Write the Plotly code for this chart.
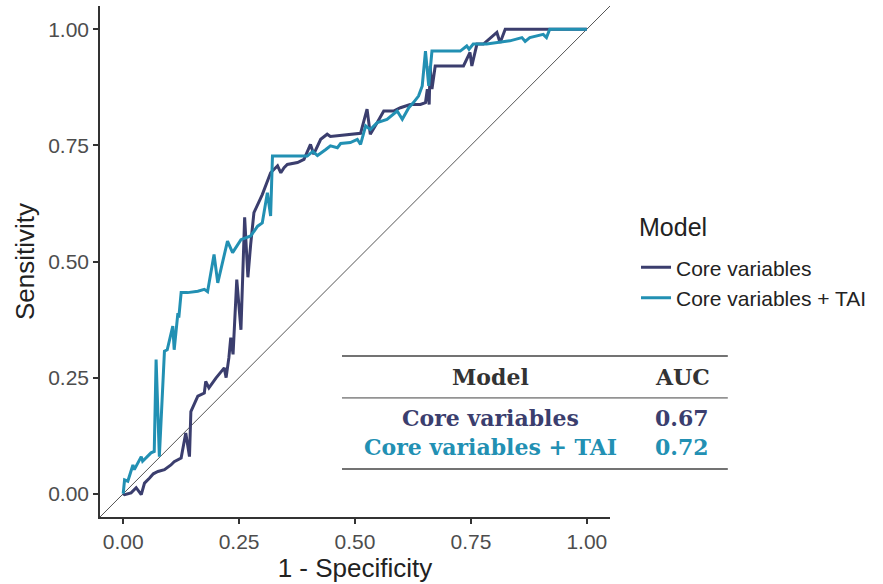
import plotly.graph_objects as go

# Core variables (navy) ROC curve: 1 - specificity, sensitivity
core_fpr = [0.0, 0.003, 0.017, 0.028, 0.039, 0.046, 0.057, 0.065, 0.075, 0.089, 0.103, 0.110,
            0.125, 0.135, 0.143, 0.146, 0.161, 0.175, 0.178, 0.185, 0.200, 0.218, 0.222, 0.228,
            0.232, 0.237, 0.245, 0.254, 0.262, 0.269, 0.275, 0.282, 0.300, 0.318, 0.333, 0.340,
            0.347, 0.354, 0.376, 0.390, 0.404, 0.411, 0.426, 0.440, 0.447, 0.497, 0.512, 0.526,
            0.533, 0.548, 0.562, 0.583, 0.598, 0.619, 0.641, 0.652, 0.656, 0.660, 0.662, 0.666,
            0.673, 0.734, 0.748, 0.752, 0.763, 0.777, 0.806, 0.813, 0.824, 0.906, 1.0]
core_tpr = [0.0, -0.002, 0.002, 0.013, -0.002, 0.023, 0.034, 0.043, 0.048, 0.052, 0.062, 0.069,
            0.077, 0.131, 0.080, 0.177, 0.210, 0.217, 0.242, 0.228, 0.249, 0.271, 0.250, 0.293,
            0.336, 0.300, 0.461, 0.353, 0.595, 0.466, 0.537, 0.605, 0.644, 0.691, 0.706, 0.691,
            0.702, 0.709, 0.713, 0.720, 0.752, 0.731, 0.763, 0.774, 0.769, 0.774, 0.776, 0.828,
            0.774, 0.799, 0.824, 0.824, 0.831, 0.838, 0.838, 0.842, 0.871, 0.838, 0.921, 0.871,
            0.921, 0.921, 0.950, 0.921, 0.968, 0.968, 0.993, 0.971, 1.0, 1.0, 1.0]

# Core variables + TAI (teal) ROC curve
tai_fpr = [0.0, 0.003, 0.010, 0.021, 0.024, 0.039, 0.042, 0.060, 0.067, 0.071, 0.078, 0.089,
           0.095, 0.107, 0.110, 0.118, 0.120, 0.125, 0.139, 0.161, 0.175, 0.182, 0.196, 0.204,
           0.225, 0.236, 0.254, 0.275, 0.290, 0.300, 0.311, 0.318, 0.322, 0.333, 0.397, 0.409,
           0.419, 0.437, 0.447, 0.462, 0.469, 0.490, 0.505, 0.512, 0.523, 0.533, 0.548, 0.569,
           0.591, 0.602, 0.616, 0.626, 0.637, 0.645, 0.652, 0.659, 0.666, 0.727, 0.741, 0.746,
           0.755, 0.784, 0.834, 0.860, 0.867, 0.877, 0.892, 0.906, 0.913, 0.920, 1.0]
tai_tpr = [0.0, 0.030, 0.027, 0.062, 0.052, 0.080, 0.070, 0.088, 0.091, 0.289, 0.080, 0.307,
           0.310, 0.361, 0.310, 0.389, 0.379, 0.433, 0.433, 0.436, 0.440, 0.435, 0.515, 0.454,
           0.544, 0.519, 0.547, 0.555, 0.576, 0.583, 0.648, 0.598, 0.727, 0.727, 0.727, 0.737,
           0.728, 0.741, 0.749, 0.745, 0.754, 0.756, 0.763, 0.752, 0.792, 0.784, 0.799, 0.806,
           0.824, 0.806, 0.831, 0.842, 0.856, 0.878, 0.953, 0.878, 0.953, 0.953, 0.964, 0.957,
           0.968, 0.968, 0.975, 0.982, 0.974, 0.982, 0.985, 0.989, 0.982, 1.0, 1.0]

model_names = ["Core variables", "Core variables + TAI"]
auc_values = ["0.67", "0.72"]
tick_vals = [0.0, 0.25, 0.5, 0.75, 1.0]
tick_text = ["0.00", "0.25", "0.50", "0.75", "1.00"]

navy = "#3b3e6e"
teal = "#2290b3"
sans = "Liberation Sans, Arial, sans-serif"
serif = "DejaVu Serif, Liberation Serif, serif"

fig = go.Figure()
fig.add_trace(go.Scatter(x=[-0.05, 1.05], y=[-0.05, 1.05], mode="lines",
                         line=dict(color="#555555", width=1), showlegend=False,
                         hoverinfo="skip"))
fig.add_trace(go.Scatter(x=core_fpr, y=core_tpr, mode="lines", name=model_names[0],
                         line=dict(color=navy, width=3)))
fig.add_trace(go.Scatter(x=tai_fpr, y=tai_tpr, mode="lines", name=model_names[1],
                         line=dict(color=teal, width=3)))

axis_common = dict(range=[-0.05, 1.05], tickvals=tick_vals, ticktext=tick_text,
                   showgrid=False, zeroline=False, showline=True, linecolor="#333333",
                   linewidth=1.5, ticks="outside", ticklen=5, tickcolor="#333333",
                   tickwidth=1.5, automargin=False,
                   tickfont=dict(family=sans, size=21, color="#4d4d4d"))
fig.update_xaxes(**axis_common, title=dict(text="1 - Specificity", standoff=4,
                 font=dict(family=sans, size=26, color="#222222")))
fig.update_yaxes(**axis_common, title=dict(text="Sensitivity", standoff=6,
                 font=dict(family=sans, size=26, color="#222222")))

# Table lines (paper coordinates)
for yy, w in [(0.315, 1.5), (0.233, 1.0), (0.094, 1.5)]:
    fig.add_shape(type="line", xref="paper", yref="paper", x0=0.4745, x1=1.231,
                  y0=yy, y1=yy, line=dict(color="#444444", width=w))

def table_text(txt, x, y, col):
    fig.add_annotation(text="<b>" + txt + "</b>", xref="paper", yref="paper", x=x, y=y,
                       xanchor="center", yanchor="middle", showarrow=False,
                       font=dict(family=serif, size=22, color=col))

table_text("Model", 0.765, 0.274, "#333333")
table_text("AUC", 1.142, 0.274, "#333333")
for i, (nm, auc, col) in enumerate(zip(model_names, auc_values, [navy, teal])):
    yy = [0.194, 0.137][i]
    table_text(nm, 0.765, yy, col)
    table_text(auc, 1.142, yy, col)

# Legend title as annotation
fig.add_annotation(text="Model", xref="paper", yref="paper", x=1.053, y=0.5675,
                   xanchor="left", yanchor="middle", showarrow=False,
                   font=dict(family=sans, size=25, color="#222222"))

fig.update_layout(
    width=883, height=584,
    margin=dict(l=100, r=273, t=6, b=67, autoexpand=False),
    paper_bgcolor="white", plot_bgcolor="white",
    legend=dict(x=1.051, y=0.528, xanchor="left", yanchor="top",
                font=dict(family=sans, size=21, color="#222222"),
                tracegroupgap=0, itemwidth=30),
    showlegend=True,
)

fig.write_html("out.html", config={"displayModeBar": False},
               post_script="document.body.style.margin='0';")
